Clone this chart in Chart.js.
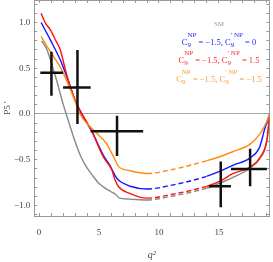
<!DOCTYPE html>
<html>
<head>
<meta charset="utf-8">
<script src="https://cdn.jsdelivr.net/npm/chart.js@4.4.1/dist/chart.umd.min.js"></script>
<style>
    body { margin: 0; background: #fff; }
    #wrap { position: relative; width: 273px; height: 262px; }
    .lab {
        position: absolute; left: 160px; width: 118px; text-align: center;
        font-family: 'Liberation Serif', serif; font-size: 8.5px; white-space: nowrap;
    }
    .st {
        display: inline-block; vertical-align: -2px; font-size: 7px;
        line-height: 10px; text-align: left;
    }
</style>
</head>
<body>
<div id="wrap">
    <canvas id="chartCanvas"></canvas>
    <div class="lab" style="top:20px;color:#9a9a9a;font-size:7px">SM</div>
    <div class="lab" style="top:30px;color:#2a2aff">C<span class="st">NP<br>9</span> = −1.5, C<span class="st">′ NP<br>9</span> = 0</div>
    <div class="lab" style="top:48px;color:#ff2a2a">C<span class="st">NP<br>9</span> = −1.5, C<span class="st">′ NP<br>9</span> = 1.5</div>
    <div class="lab" style="top:67px;color:#ff9c33">C<span class="st">NP<br>9</span> = −1.5, C<span class="st">′ NP<br>9</span> = −1.5</div>
</div>
<script>
// theory curves (q^2, P5')
const qSM = [0.2, 0.6, 1.0, 1.5, 2.0, 2.5, 3.0, 3.5, 4.0, 4.5, 5.0, 5.5, 6.0, 6.4, 6.7, 7.5, 9.0, 11.0, 14.0, 15.0, 16.4, 17.6, 18.4, 19.0, 19.2];
const p5SM = [0.80, 0.72, 0.57, 0.35, 0.11, -0.10, -0.30, -0.47, -0.59, -0.68, -0.76, -0.81, -0.85, -0.88, -0.92, -0.93, -0.94, -0.90, -0.81, -0.76, -0.68, -0.59, -0.49, -0.30, -0.06];

const qRed = [0.17, 0.5, 0.94, 1.4, 1.77, 2.2, 2.6, 3.0, 3.5, 4.4, 5.36, 6.06, 6.33, 6.6, 7.6, 9.0, 11.0, 14.0, 15.0, 16.2, 17.6, 18.4, 19.0, 19.2];
const p5Red = [1.10, 1.00, 0.92, 0.80, 0.70, 0.48, 0.30, 0.15, 0.02, -0.19, -0.47, -0.61, -0.72, -0.79, -0.87, -0.92, -0.88, -0.79, -0.74, -0.65, -0.58, -0.48, -0.28, -0.04];

const qBlue = [0.17, 0.94, 1.77, 2.1, 2.6, 3.0, 3.55, 4.4, 5.4, 5.9, 6.33, 6.6, 7.6, 9.0, 11.0, 14.0, 15.0, 16.2, 17.6, 18.4, 18.8, 19.2];
const p5Blue = [1.00, 0.81, 0.59, 0.48, 0.30, 0.15, 0.0, -0.19, -0.46, -0.56, -0.67, -0.72, -0.79, -0.82, -0.78, -0.68, -0.63, -0.56, -0.48, -0.36, -0.17, -0.02];

const qOrange = [0.17, 0.52, 1.2, 1.9, 2.5, 3.0, 3.4, 4.5, 5.6, 6.33, 6.6, 7.6, 9.0, 11.0, 14.0, 15.0, 16.2, 17.6, 18.4, 19.0, 19.2];
const p5Orange = [0.85, 0.77, 0.63, 0.48, 0.30, 0.14, 0.0, -0.17, -0.32, -0.50, -0.57, -0.62, -0.65, -0.61, -0.51, -0.47, -0.41, -0.33, -0.22, -0.08, 0.0];

// measured bins
const binLo = [0.1, 2.0, 4.3, 14.18, 16.0];
const binHi = [2.0, 4.3, 8.68, 16.0, 19.0];
const binMid = [1.03, 3.2, 6.5, 15.15, 17.6];
const p5Data = [0.45, 0.29, -0.19, -0.79, -0.60];
const p5ErrLo = [0.20, -0.11, -0.46, -1.02, -0.79];
const p5ErrHi = [0.68, 0.70, -0.02, -0.52, -0.38];

// axis ticks (labels only on the major ones)
const xTicks = [0, 1, 2, 3, 4, 5, 6, 7, 8, 9, 10, 11, 12, 13, 14, 15, 16, 17, 18, 19];
const xLabels = [0, 5, 10, 15];
const yTicks = [-1.1, -1.0, -0.9, -0.8, -0.7, -0.6, -0.5, -0.4, -0.3, -0.2, -0.1, 0, 0.1, 0.2, 0.3, 0.4, 0.5, 0.6, 0.7, 0.8, 0.9, 1.0, 1.1, 1.2];
const yLabels = [-1.0, -0.5, 0, 0.5, 1.0];

const serif = 'Liberation Serif';

function curve(qs, ps) {
    return qs.map((q, i) => ({ x: q, y: ps[i] }));
}

const bars = [];
binMid.forEach((m, i) => {
    bars.push({ x: binLo[i], y: p5Data[i] }, { x: binHi[i], y: p5Data[i] }, { x: binHi[i], y: null });
    bars.push({ x: m, y: p5ErrLo[i] }, { x: m, y: p5ErrHi[i] }, { x: m, y: null });
});

const dashMid = {
    borderDash: (ctx) => (ctx.p0.parsed.x >= 8.9 && ctx.p1.parsed.x <= 14.1 ? [5, 3] : undefined),
};

function lineSet(qs, ps, color) {
    return {
        data: curve(qs, ps),
        borderColor: color,
        borderWidth: 1.4,
        pointRadius: 0,
        showLine: true,
        cubicInterpolationMode: 'monotone',
        segment: dashMid,
    };
}

function setTicks(list) {
    return (s) => { s.ticks = list.map((v) => ({ value: v })); };
}

function noPad(s) {
    s.paddingTop = 0;
    s.paddingBottom = 0;
    s.paddingLeft = 0;
    s.paddingRight = 0;
}

const cha = document.getElementById('chartCanvas').getContext('2d');
new Chart(cha, {
    type: 'scatter',
    data: {
        datasets: [
            {
                data: bars,
                borderColor: '#111',
                borderWidth: 2.5,
                pointRadius: 0,
                showLine: true,
                spanGaps: false,
            },
            lineSet(qOrange, p5Orange, '#ff8a10'),
            lineSet(qRed, p5Red, '#ff1010'),
            lineSet(qBlue, p5Blue, '#1414ff'),
            lineSet(qSM, p5SM, '#888888'),
        ],
    },
    options: {
        responsive: true,
        maintainAspectRatio: false,
        animation: false,
        layout: { padding: 0 },
        plugins: { legend: { display: false }, tooltip: { enabled: false } },
        scales: {
            x: {
                type: 'linear',
                min: -0.4,
                max: 19.2,
                afterBuildTicks: setTicks(xTicks),
                afterFit: (s) => { noPad(s); s.height = 46; },
                border: { color: '#999' },
                grid: { drawOnChartArea: false, tickLength: -3, color: '#999' },
                ticks: {
                    autoSkip: false,
                    maxRotation: 0,
                    padding: 14,
                    color: '#444',
                    font: { family: serif, size: 9 },
                    callback: (v) => (xLabels.includes(v) ? String(v) : ''),
                },
                title: {
                    display: true,
                    text: 'q²',
                    color: '#444',
                    font: { family: serif, size: 10, style: 'italic' },
                    padding: { bottom: 1 },
                },
            },
            xt: {
                type: 'linear',
                position: 'top',
                min: -0.4,
                max: 19.2,
                afterBuildTicks: setTicks(xTicks),
                afterFit: (s) => { noPad(s); s.height = 0; },
                border: { color: '#999' },
                grid: { drawOnChartArea: false, tickLength: -3, color: '#999' },
                ticks: { autoSkip: false, display: false },
            },
            y: {
                type: 'linear',
                min: -1.115,
                max: 1.246,
                afterBuildTicks: setTicks(yTicks),
                afterFit: (s) => { noPad(s); s.width = 34.3; },
                border: { color: '#999' },
                grid: {
                    drawOnChartArea: true,
                    tickLength: -3,
                    color: (ctx) => (ctx.tick && ctx.tick.value === 0 ? '#aaa' : 'rgba(0,0,0,0)'),
                    tickColor: '#999',
                },
                ticks: {
                    autoSkip: false,
                    padding: 7,
                    color: '#444',
                    font: { family: serif, size: 9 },
                    callback: (v) => (yLabels.includes(v) ? (v < 0 ? '−' : '') + Math.abs(v).toFixed(1) : ''),
                },
                title: {
                    display: true,
                    text: "P5 '",
                    color: '#444',
                    font: { family: serif, size: 9 },
                    padding: { top: 2 },
                },
            },
            yr: {
                type: 'linear',
                position: 'right',
                min: -1.115,
                max: 1.246,
                afterBuildTicks: setTicks(yTicks),
                afterFit: (s) => { noPad(s); s.width = 3.7; },
                border: { color: '#999' },
                grid: { drawOnChartArea: false, tickLength: -3, color: '#999' },
                ticks: { autoSkip: false, display: false },
            },
        },
    },
});
</script>
</body>
</html>
